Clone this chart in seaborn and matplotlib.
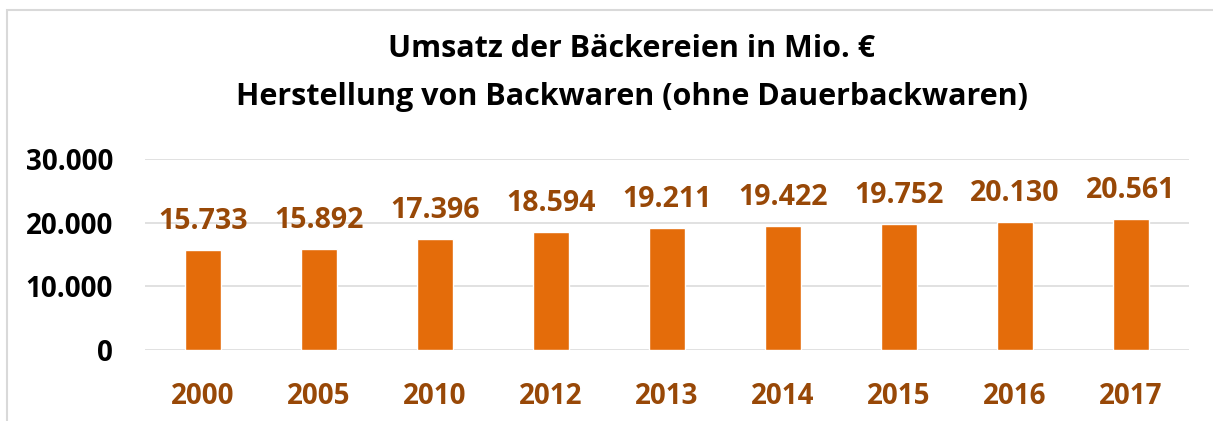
import seaborn as sns
import matplotlib.pyplot as plt
from matplotlib.patches import Rectangle

years = ["2000", "2005", "2010", "2012", "2013", "2014", "2015", "2016", "2017"]
umsatz = [15733, 15892, 17396, 18594, 19211, 19422, 19752, 20130, 20561]
y_ticks = [0, 10000, 20000, 30000]

bar_color = "#E46C0A"
label_color = "#984807"
grid_color = "#D9D9D9"

sns.set_style("white")
plt.rcParams["font.family"] = ["Open Sans", "DejaVu Sans"]
plt.rcParams["text.color"] = "black"

fig = plt.figure(figsize=(12.13, 4.21), dpi=100)
ax = fig.add_axes([145 / 1213, 71 / 421, (1189 - 145) / 1213, (350 - 159) / 421])

p = sns.barplot(x=years, y=umsatz, color=bar_color, saturation=1, width=0.31, ax=ax, zorder=3)

ax.set_ylim(0, 30000)
ax.set_xlim(-0.5, 8.5)
ax.set_yticks(y_ticks)
ax.set_yticklabels([f"{v:,}".replace(",", ".") for v in y_ticks], fontsize=20, fontweight="bold", color="black")
ax.tick_params(axis="y", length=0, pad=23)
ax.tick_params(axis="x", length=0, pad=23, labelsize=20, labelcolor=label_color)
for t in ax.get_xticklabels():
    t.set_fontweight("bold")

ax.grid(axis="y", color=grid_color, linewidth=1.1, zorder=0)
ax.grid(axis="x", visible=False)
sns.despine(ax=ax, left=True, bottom=True, top=True, right=True)
ax.set_xlabel("")
ax.set_ylabel("")

for container in p.containers:
    p.bar_label(container, labels=[f"{v:,}".replace(",", ".") for v in umsatz],
                padding=10, fontsize=20.5, fontweight="bold", color=label_color)

fig.text(632 / 1213, 1 - 49 / 421, "Umsatz der Bäckereien in Mio. €", ha="center", va="center",
         fontsize=22, fontweight="bold", color="black")
fig.text(632 / 1213, 1 - 97 / 421, "Herstellung von Backwaren (ohne Dauerbackwaren)", ha="center", va="center",
         fontsize=22, fontweight="bold", color="black")

fig.patches.append(Rectangle((7 / 1213, -0.2), 1.2, 1.2 - 10 / 421, transform=fig.transFigure,
                             fill=False, edgecolor=grid_color, linewidth=1.5))

fig.savefig("out.png", dpi=100)
